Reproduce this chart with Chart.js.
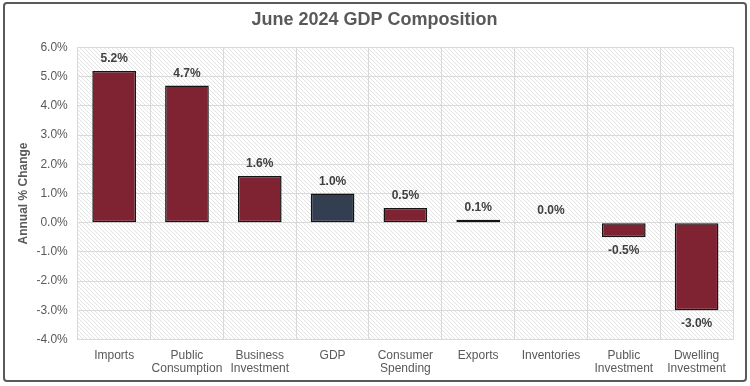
<!DOCTYPE html>
<html>
<head>
<meta charset="utf-8">
<script src="https://cdn.jsdelivr.net/npm/chart.js@4.4.1/dist/chart.umd.min.js"></script>
<style>
  html, body { margin: 0; padding: 0; background: #fff; }
  #wrap { width: 750px; height: 386px; position: relative; }
</style>
</head>
<body>
<div id="wrap"><canvas id="gdp-chart" width="750" height="386"></canvas></div>
<script>
const categories = [['Imports'], ['Public', 'Consumption'], ['Business', 'Investment'], ['GDP'], ['Consumer', 'Spending'], ['Exports'], ['Inventories'], ['Public', 'Investment'], ['Dwelling', 'Investment']];
const changes = [5.2, 4.7, 1.6, 1.0, 0.5, 0.1, 0.0, -0.5, -3.0];
const yTicks = [-4, -3, -2, -1, 0, 1, 2, 3, 4, 5, 6];

const barRed = '#7f2333';
const gdpBlue = '#333f50';
const textGray = '#595959';
const fontFam = '"Liberation Sans", Arial, sans-serif';

// diagonal hatch for the plot area
function makeHatch() {
    const c = document.createElement('canvas');
    c.width = 4; c.height = 4;
    const g = c.getContext('2d');
    g.fillStyle = '#ffffff';
    g.fillRect(0, 0, 4, 4);
    g.strokeStyle = '#e3e3e3';
    g.lineWidth = 1;
    g.beginPath();
    g.moveTo(-1, -1); g.lineTo(5, 5);
    g.moveTo(-1, 3); g.lineTo(1, 5);
    g.moveTo(3, -1); g.lineTo(5, 1);
    g.stroke();
    return g.createPattern(c, 'repeat');
}

const hatchPlugin = {
    id: 'hatch',
    beforeDraw(chart) {
        const { ctx, chartArea } = chart;
        ctx.save();
        ctx.fillStyle = '#ffffff';
        ctx.fillRect(0, 0, chart.width, chart.height);
        ctx.fillStyle = makeHatch();
        ctx.fillRect(chartArea.left, chartArea.top, chartArea.right - chartArea.left, chartArea.bottom - chartArea.top);
        ctx.restore();
    },
    afterDraw(chart) {
        const ctx = chart.ctx;
        ctx.save();
        ctx.strokeStyle = '#5a5a5a';
        ctx.lineWidth = 2;
        ctx.beginPath();
        ctx.roundRect(4, 3, 742, 378, 3);
        ctx.stroke();
        ctx.restore();
    }
};

const labelPlugin = {
    id: 'valueLabels',
    afterDatasetsDraw(chart) {
        const ctx = chart.ctx;
        const meta = chart.getDatasetMeta(0);
        ctx.save();
        ctx.font = 'bold 12px ' + fontFam;
        ctx.fillStyle = '#404040';
        ctx.textAlign = 'center';
        meta.data.forEach((bar, i) => {
            const v = changes[i];
            const text = v.toFixed(1) + '%';
            if (v < 0) {
                ctx.textBaseline = 'top';
                ctx.fillText(text, bar.x, bar.y + 7);
            } else {
                ctx.textBaseline = 'bottom';
                ctx.fillText(text, bar.x, bar.y - 6);
            }
        });
        ctx.restore();
    }
};

new Chart(document.getElementById('gdp-chart'), {
    type: 'bar',
    data: {
        labels: categories,
        datasets: [{
            data: changes,
            backgroundColor: categories.map(c => c[0] === 'GDP' ? gdpBlue : barRed),
            borderColor: '#141414',
            borderWidth: ctx => ctx.raw === 0 ? 0 : 1.5,
            borderSkipped: false,
            barPercentage: 0.6,
            categoryPercentage: 1.0
        }]
    },
    options: {
        responsive: false,
        animation: false,
        layout: { padding: { top: 7, left: 16, right: 17, bottom: 1 } },
        plugins: {
            legend: { display: false },
            tooltip: { enabled: false },
            title: {
                display: true,
                text: 'June 2024 GDP Composition',
                color: textGray,
                font: { family: fontFam, size: 18, weight: 'bold' },
                padding: { top: 2, bottom: 17 }
            }
        },
        scales: {
            x: {
                grid: { color: '#d9d9d9', offset: true, drawTicks: false },
                border: { color: '#d9d9d9' },
                ticks: {
                    color: textGray,
                    padding: 9,
                    maxRotation: 0,
                    autoSkip: false,
                    font: { family: fontFam, size: 12, lineHeight: 1.15 }
                }
            },
            y: {
                min: yTicks[0],
                max: yTicks[yTicks.length - 1],
                afterBuildTicks: scale => { scale.ticks = yTicks.map(v => ({ value: v })); },
                grid: { color: '#d9d9d9', drawTicks: false },
                border: { color: '#d9d9d9' },
                ticks: {
                    color: textGray,
                    padding: 10,
                    font: { family: fontFam, size: 12 },
                    callback: v => v.toFixed(1) + '%'
                },
                title: {
                    display: true,
                    text: 'Annual % Change',
                    color: textGray,
                    padding: { top: 0, bottom: -4 },
                    font: { family: fontFam, size: 12, weight: 'bold' }
                }
            }
        }
    },
    plugins: [hatchPlugin, labelPlugin]
});
</script>
</body>
</html>
